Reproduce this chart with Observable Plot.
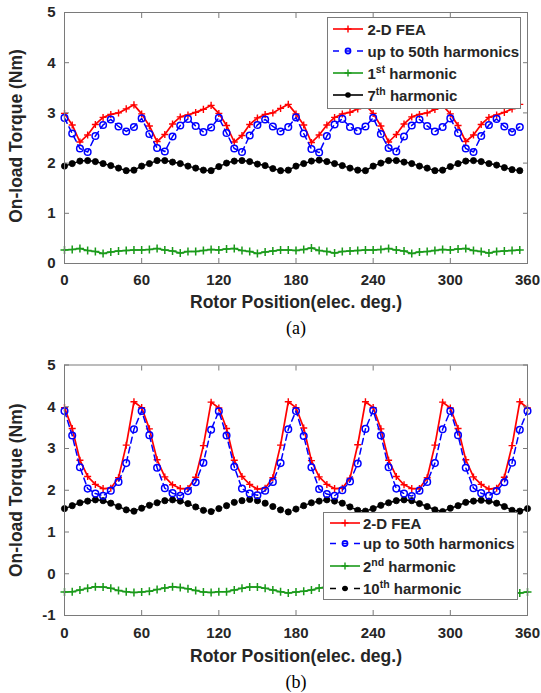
<!DOCTYPE html>
<html>
<head>
<meta charset="utf-8">
<script src="https://cdn.jsdelivr.net/npm/d3@7"></script>
<script src="https://cdn.jsdelivr.net/npm/@observablehq/plot@0.6"></script>
<style>
  html, body { margin: 0; padding: 0; background: #fff; }
  #wrap { position: relative; width: 541px; height: 693px; }
  #wrap svg { display: block; }
  #legend { position: absolute; left: 0; top: 0; }
</style>
</head>
<body>
<div id="wrap"></div>
<script>
// ---------- data ----------
const xTicks = [0, 60, 120, 180, 240, 300, 360];
const yTicksA = [0, 1, 2, 3, 4, 5];
const yTicksB = [-1, 0, 1, 2, 3, 4, 5];

// rotor position (elec. deg.)
const posA = [0,6,12,18,24,30,36,42,48,54,60,66,72,78,84,90,96,102,108,114,120,126,132,138,144,150,156,162,168,174,180,186,192,198,204,210,216,222,228,234,240,246,252,258,264,270,276,282,288,294,300,306,312,318,324,330,336,342,348,354];
const posB = [0,6,12,18,24,30,36,42,48,54,60,66,72,78,84,90,96,102,108,114,120,126,132,138,144,150,156,162,168,174,180,186,192,198,204,210,216,222,228,234,240,246,252,258,264,270,276,282,288,294,300,306,312,318,324,330,336,342,348,354,360];

// (a)
const feaA = [
  2.99,2.76,2.42,2.56,2.77,2.91,2.97,3.00,3.08,3.16,
  2.98,2.74,2.43,2.57,2.78,2.92,2.96,3.01,3.07,3.15,
  2.99,2.75,2.42,2.55,2.77,2.90,2.97,3.00,3.09,3.17,
  2.98,2.76,2.41,2.56,2.76,2.91,2.98,3.01,3.08,3.16,
  2.99,2.74,2.42,2.57,2.78,2.92,2.97,3.00,3.07,3.15,
  2.98,2.75,2.43,2.56,2.77,2.91,2.96,3.01,3.08,3.17];
const h50A = [
  2.90,2.59,2.29,2.22,2.54,2.76,2.87,2.73,2.63,2.72,
  2.89,2.58,2.30,2.23,2.53,2.75,2.88,2.74,2.62,2.71,
  2.90,2.60,2.29,2.22,2.55,2.76,2.87,2.73,2.63,2.72,
  2.91,2.59,2.28,2.21,2.54,2.77,2.88,2.72,2.64,2.73,
  2.90,2.58,2.30,2.23,2.53,2.75,2.87,2.74,2.63,2.72,
  2.89,2.60,2.29,2.22,2.54,2.76,2.88,2.73,2.62,2.72];
const h1A = [
  0.27,0.28,0.30,0.26,0.24,0.20,0.23,0.25,0.26,0.27,
  0.27,0.28,0.30,0.27,0.25,0.21,0.24,0.24,0.26,0.28,
  0.27,0.29,0.30,0.26,0.24,0.20,0.23,0.25,0.27,0.27,
  0.26,0.28,0.31,0.26,0.24,0.21,0.24,0.25,0.26,0.27,
  0.27,0.28,0.30,0.27,0.25,0.20,0.23,0.24,0.26,0.28,
  0.27,0.29,0.30,0.26,0.24,0.21,0.24,0.25,0.26,0.27];
const h7A = [
  1.94,1.99,2.04,2.05,2.03,1.99,1.95,1.90,1.85,1.86,
  1.94,1.99,2.05,2.05,2.02,1.99,1.94,1.90,1.86,1.85,
  1.93,2.00,2.04,2.05,2.03,1.98,1.95,1.89,1.85,1.86,
  1.94,1.99,2.04,2.06,2.03,1.99,1.95,1.90,1.86,1.85,
  1.94,2.00,2.05,2.05,2.02,1.99,1.94,1.90,1.85,1.86,
  1.93,1.99,2.04,2.05,2.03,1.99,1.96,1.91,1.87,1.85];

// (b)
const feaB = [
  3.98,3.48,2.72,2.33,2.14,2.04,2.05,2.30,3.08,4.12,
  3.98,3.47,2.73,2.32,2.13,2.04,2.04,2.31,3.07,4.11,
  3.97,3.48,2.72,2.33,2.14,2.03,2.05,2.30,3.08,4.12,
  3.98,3.49,2.71,2.32,2.14,2.04,2.05,2.29,3.09,4.12,
  3.98,3.47,2.72,2.33,2.13,2.04,2.04,2.30,3.08,4.11,
  3.97,3.48,2.73,2.32,2.14,2.03,2.05,2.31,3.07,4.12,
  3.97];
const h50B = [
  3.90,3.31,2.55,2.04,1.92,1.87,1.99,2.20,2.65,3.46,
  3.90,3.32,2.54,2.05,1.93,1.87,1.98,2.19,2.66,3.45,
  3.89,3.31,2.56,2.04,1.92,1.88,1.99,2.20,2.65,3.46,
  3.90,3.30,2.55,2.03,1.91,1.87,2.00,2.21,2.64,3.47,
  3.91,3.31,2.55,2.04,1.92,1.86,1.99,2.20,2.65,3.46,
  3.90,3.32,2.54,2.05,1.93,1.87,1.98,2.19,2.66,3.45,
  3.90];
const h2B = [
  -0.44,-0.43,-0.39,-0.35,-0.31,-0.32,-0.35,-0.40,-0.43,-0.45,
  -0.44,-0.42,-0.38,-0.34,-0.31,-0.33,-0.36,-0.40,-0.44,-0.45,
  -0.43,-0.43,-0.39,-0.35,-0.32,-0.32,-0.35,-0.39,-0.43,-0.46,
  -0.44,-0.42,-0.39,-0.34,-0.31,-0.32,-0.36,-0.40,-0.44,-0.45,
  -0.43,-0.43,-0.38,-0.35,-0.31,-0.33,-0.35,-0.40,-0.43,-0.45,
  -0.44,-0.42,-0.39,-0.35,-0.32,-0.32,-0.36,-0.39,-0.44,-0.46,
  -0.44];
const h10B = [
  1.56,1.63,1.70,1.74,1.77,1.75,1.69,1.61,1.53,1.50,
  1.57,1.64,1.70,1.75,1.77,1.74,1.68,1.60,1.52,1.49,
  1.56,1.63,1.71,1.75,1.78,1.75,1.69,1.61,1.53,1.48,
  1.55,1.63,1.70,1.74,1.77,1.74,1.69,1.60,1.52,1.50,
  1.56,1.64,1.70,1.75,1.77,1.75,1.68,1.61,1.53,1.49,
  1.57,1.63,1.71,1.74,1.76,1.74,1.69,1.61,1.52,1.50,
  1.56];

// ---------- style ----------
const FONT = "'Liberation Sans', Arial, Helvetica, sans-serif";
const TXT = "#262626";
const AX = "#7a7a7a";
const RED = "#ff0000", BLUE = "#0000ff", GREEN = "#1a9a1a", BLACK = "#000000";

function panel(o) {
  return Plot.plot({
    width: 541,
    height: o.height,
    marginLeft: 64, marginRight: 14,
    marginTop: o.marginTop, marginBottom: o.marginBottom,
    x: {domain: [0, 360]},
    y: {domain: o.yDomain},
    style: {fontFamily: FONT, background: "#fff", color: TXT, overflow: "visible"},
    marks: [
      // data
      Plot.line(o.low, {x: o.xs, y: o.low, stroke: GREEN, strokeWidth: 1.5}),
      Plot.dot(o.low, {x: o.xs, y: o.low, symbol: "plus", r: 2.7, stroke: GREEN, strokeWidth: 1.5}),
      Plot.line(o.high, {x: o.xs, y: o.high, stroke: BLACK, strokeWidth: 1.5, strokeDasharray: o.highDash}),
      Plot.dot(o.high, {x: o.xs, y: o.high, r: 3.1, fill: BLACK, stroke: BLACK, strokeWidth: 0.8}),
      Plot.line(o.fea, {x: o.xs, y: o.fea, stroke: RED, strokeWidth: 1.7}),
      Plot.dot(o.fea, {x: o.xs, y: o.fea, symbol: "plus", r: 2.4, stroke: RED, strokeWidth: 1.4}),
      Plot.line(o.h50, {x: o.xs, y: o.h50, stroke: BLUE, strokeWidth: 1.5, strokeDasharray: "6,4"}),
      Plot.dot(o.h50, {x: o.xs, y: o.h50, r: 3.3, stroke: BLUE, strokeWidth: 1.5, fill: "none"}),
      // frame & inward ticks
      Plot.frame({stroke: AX, strokeWidth: 1}),
      Plot.axisX(xTicks, {anchor: "bottom", tickSize: -5, fill: "none", stroke: AX, label: null}),
      Plot.axisX(xTicks, {anchor: "top", tickSize: -5, fill: "none", stroke: AX, label: null}),
      Plot.axisY(o.yTicks, {anchor: "left", tickSize: -5, fill: "none", stroke: AX, label: null}),
      Plot.axisY(o.yTicks, {anchor: "right", tickSize: -5, fill: "none", stroke: AX, label: null}),
      // tick labels
      Plot.text(xTicks, {x: d => d, text: d => String(d), frameAnchor: "bottom", dy: o.dyTick,
        textAnchor: "middle", lineAnchor: "middle", fontSize: 15, fontWeight: "bold", fill: TXT}),
      Plot.text(o.yTicks, {y: d => d, text: d => String(d), frameAnchor: "left", dx: -9,
        textAnchor: "end", lineAnchor: "middle", fontSize: 15, fontWeight: "bold", fill: TXT}),
      // axis titles
      Plot.text(["Rotor Position(elec. deg.)"], {frameAnchor: "bottom", dy: o.dyTitle,
        textAnchor: "middle", lineAnchor: "middle", fontSize: 17.5, fontWeight: "bold", fill: TXT}),
      Plot.text(["On-load Torque (Nm)"], {frameAnchor: "left", dx: -48, dy: o.dyYTitle, rotate: -90,
        textAnchor: "middle", lineAnchor: "middle", fontSize: 17.5, fontWeight: "bold", fill: TXT}),
      // caption
      Plot.text([o.caption], {frameAnchor: "bottom", dy: o.dyCap,
        textAnchor: "middle", lineAnchor: "middle",
        fontSize: 18, fontFamily: "'Liberation Serif', 'Times New Roman', serif", fill: "#000"})
    ]
  });
}

const wrap = document.getElementById("wrap");

wrap.append(panel({
  xs: posA, fea: feaA, h50: h50A, low: h1A, high: h7A, highDash: null,
  yDomain: [0, 5], yTicks: yTicksA,
  height: 345, marginTop: 12, marginBottom: 82,
  dyTick: 17, dyTitle: 39, dyCap: 65, dyYTitle: -2, caption: "(a)"
}));

wrap.append(panel({
  xs: posB, fea: feaB, h50: h50B, low: h2B, high: h10B, highDash: "5,3",
  yDomain: [-1, 5], yTicks: yTicksB,
  height: 348, marginTop: 19.5, marginBottom: 78,
  dyTick: 18, dyTitle: 41, dyCap: 67, dyYTitle: 0, caption: "(b)"
}));

// ---------- legends (overlay) ----------
const legendA = [
  {parts: [["2-D FEA"]], color: RED, dash: null, marker: "plus"},
  {parts: [["up to 50th harmonics"]], color: BLUE, dash: "6,6", marker: "circle"},
  {parts: [["1"], ["st", true], [" harmonic"]], color: GREEN, dash: null, marker: "plus"},
  {parts: [["7"], ["th", true], [" harmonic"]], color: BLACK, dash: null, marker: "dot"}
];
const legendB = [
  {parts: [["2-D FEA"]], color: RED, dash: null, marker: "plus"},
  {parts: [["up to 50th harmonics"]], color: BLUE, dash: "6,6", marker: "circle"},
  {parts: [["2"], ["nd", true], [" harmonic"]], color: GREEN, dash: null, marker: "plus"},
  {parts: [["10"], ["th", true], [" harmonic"]], color: BLACK, dash: "6,6", marker: "dot"}
];

const ov = d3.select(wrap).append("svg")
  .attr("id", "legend").attr("width", 541).attr("height", 693)
  .style("font-family", FONT);

function drawLegend(box, rowsY, x0, x1, tx, items) {
  const g = ov.append("g");
  g.append("rect").attr("x", box.x).attr("y", box.y).attr("width", box.w).attr("height", box.h)
    .attr("fill", "#fff").attr("stroke", AX).attr("stroke-width", 1);
  items.forEach((it, i) => {
    const y = rowsY[i];
    const xm = (x0 + x1) / 2;
    g.append("line").attr("x1", x0).attr("x2", x1).attr("y1", y).attr("y2", y)
      .attr("stroke", it.color).attr("stroke-width", 1.6)
      .attr("stroke-dasharray", it.dash);
    if (it.marker === "plus") {
      g.append("path").attr("d", `M${xm - 3.5},${y}H${xm + 3.5}M${xm},${y - 3.5}V${y + 3.5}`)
        .attr("stroke", it.color).attr("stroke-width", 1.4);
    } else if (it.marker === "circle") {
      g.append("circle").attr("cx", xm).attr("cy", y).attr("r", 2.6)
        .attr("fill", "none").attr("stroke", it.color).attr("stroke-width", 1.6);
    } else {
      g.append("circle").attr("cx", xm).attr("cy", y).attr("r", 2.8).attr("fill", it.color);
    }
    const t = g.append("text").attr("x", tx).attr("y", y + 5.5)
      .attr("font-size", 15).attr("font-weight", "bold").attr("fill", TXT);
    let shifted = false;
    it.parts.forEach(([s, sup]) => {
      const ts = t.append("tspan").text(s);
      if (sup) { ts.attr("dy", -6).attr("font-size", 10.5); shifted = true; }
      else if (shifted) { ts.attr("dy", 6); shifted = false; }
    });
  });
}

drawLegend({x: 327.5, y: 17.5, w: 193, h: 91}, [29, 51, 73, 95], 333, 363, 367.5, legendA);
drawLegend({x: 323.5, y: 512.5, w: 194, h: 87}, [523, 543.5, 566, 588.5], 330, 360, 363, legendB);
</script>
</body>
</html>
